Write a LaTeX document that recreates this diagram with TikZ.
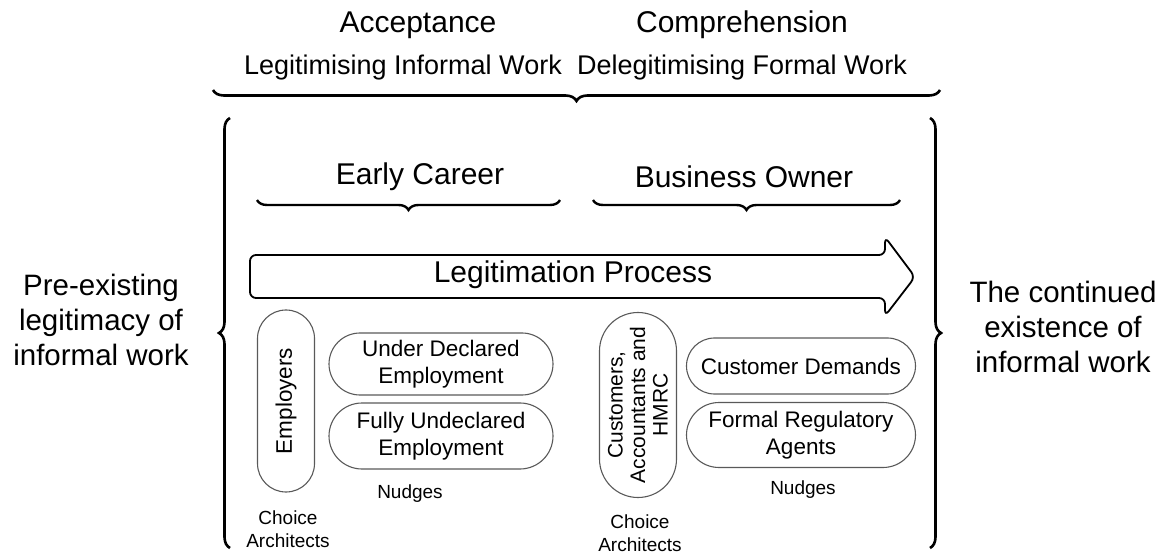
\documentclass[tikz,border=0pt]{standalone}
\usepackage{fontspec}
\setmainfont{Liberation Sans}
\usetikzlibrary{decorations.pathreplacing,shapes.misc}
\begin{document}
\begin{tikzpicture}[x=1pt,y=-1pt,
  bigbrace/.style={decorate,decoration={brace,amplitude=11pt,aspect=0.5},line width=2.6pt},
  midbrace/.style={decorate,decoration={brace,amplitude=10pt},line width=2.4pt},
  oval/.style={draw=black!65,line width=1.1pt,rounded rectangle,align=center,inner sep=2pt,font=\fontsize{22.5}{27}\selectfont},
  voval/.style={draw=black!65,line width=1.1pt,rectangle,rotate=90,align=center,inner sep=0pt,font=\fontsize{22.5}{23}\selectfont},
  lbl/.style={align=center,font=\fontsize{30}{34}\selectfont},
  small/.style={align=center,font=\fontsize{19}{23}\selectfont}]
\useasboundingbox (0,0) rectangle (1165,553);
% top labels
\node[lbl] (acc) at (418,25) {Acceptance};
\node[lbl] (comp) at (742,25) {Comprehension};
\node[lbl,font=\fontsize{27}{30}\selectfont] (lif) at (403,68) {Legitimising Informal Work};
\node[lbl,font=\fontsize{27}{30}\selectfont] (dfw) at (742,68) {Delegitimising Formal Work};
% top brace
\coordinate (tb1) at (940,90);
\coordinate (tb2) at (213,90);
\draw[bigbrace] (tb1) -- (tb2);
% big side braces
\coordinate (lb1) at (230,548);
\coordinate (lb2) at (230,118);
\draw[bigbrace] (lb1) -- (lb2);
\coordinate (rb1) at (930,118);
\coordinate (rb2) at (930,548);
\draw[bigbrace] (rb1) -- (rb2);
% side texts
\node[lbl,font=\fontsize{29.5}{35}\selectfont] (pre) at (101,320) {Pre-existing\\legitimacy of\\informal work};
\node[lbl,font=\fontsize{29.5}{35}\selectfont] (cont) at (1063,327) {The continued\\existence of\\informal work};
% career labels and braces
\node[lbl] (early) at (420,177) {Early Career};
\node[lbl] (owner) at (744,177) {Business Owner};
\coordinate (eb1) at (560,200);
\coordinate (eb2) at (257,200);
\draw[midbrace] (eb1) -- (eb2);
\coordinate (ob1) at (900,200);
\coordinate (ob2) at (593,200);
\draw[midbrace] (ob1) -- (ob2);
% arrow
\draw[line width=1.8pt,rounded corners=6pt] (250,255) -- (885,255) -- (885,237) -- (915,277) -- (885,316) -- (885,298) -- (250,298) -- cycle;
\node[lbl] (proc) at (573,275) {Legitimation Process};
% early career group
\node[voval,rounded corners=28.5pt,minimum width=182pt,minimum height=57pt] (emp) at (286,401) {Employers};
\node[oval,minimum width=228pt,minimum height=62pt] (under) at (441,364) {Under Declared\\Employment};
\node[oval,minimum width=228pt,minimum height=66pt] (fully) at (441,436) {Fully Undeclared\\Employment};
\node[small] (n1) at (410,494) {Nudges};
\node[small] (ca1) at (288,529) {Choice\\Architects};
% business owner group
\node[voval,rounded corners=38.5pt,minimum width=185pt,minimum height=77pt,font=\fontsize{21}{22.5}\selectfont] (cust) at (638,405) {Customers,\\Accountants and\\HMRC};
\node[oval,minimum width=233pt,minimum height=56pt] (cd) at (801,366) {Customer Demands};
\node[oval,minimum width=233pt,minimum height=65pt] (fra) at (801,435) {Formal Regulatory\\Agents};
\node[small] (n2) at (803,490) {Nudges};
\node[small] (ca2) at (640,533) {Choice\\Architects};
\end{tikzpicture}
\end{document}
